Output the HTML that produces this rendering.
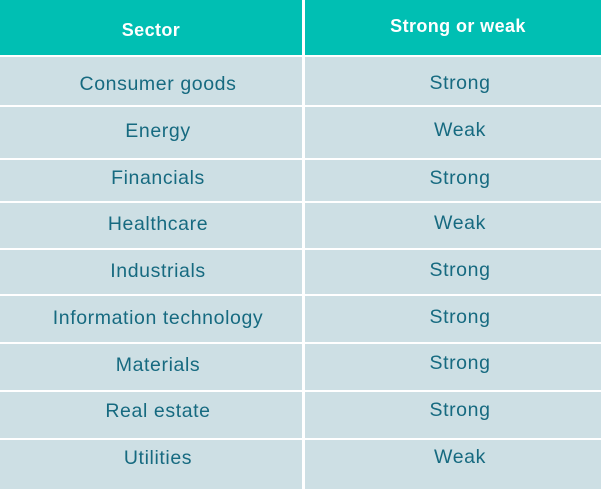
<!DOCTYPE html>
<html><head><style>
body{margin:0;width:601px;height:489px;background:#fff;position:relative;overflow:hidden;font-family:"Liberation Sans",sans-serif}
div.c{position:absolute;background:#cddfe4}
div.h{background:#00bfb3}
span{position:absolute;line-height:20px;height:20px;text-align:center;color:#166a80;font-size:19.5px;letter-spacing:0.6px;white-space:nowrap}
span.l{left:7px;width:302px}
span.r{left:309px;width:302px}
span.w{color:#fff;font-weight:bold;font-size:18px;letter-spacing:0.4px}
</style></head><body>
<div class="c h" style="left:0;top:0;width:302px;height:55px"></div>
<div class="c h" style="left:305px;top:0;width:296px;height:55px"></div>
<div class="c" style="left:0;top:57px;width:302px;height:48px"></div><div class="c" style="left:305px;top:57px;width:296px;height:48px"></div>
<div class="c" style="left:0;top:107px;width:302px;height:51px"></div><div class="c" style="left:305px;top:107px;width:296px;height:51px"></div>
<div class="c" style="left:0;top:160px;width:302px;height:41px"></div><div class="c" style="left:305px;top:160px;width:296px;height:41px"></div>
<div class="c" style="left:0;top:203px;width:302px;height:45px"></div><div class="c" style="left:305px;top:203px;width:296px;height:45px"></div>
<div class="c" style="left:0;top:250px;width:302px;height:44px"></div><div class="c" style="left:305px;top:250px;width:296px;height:44px"></div>
<div class="c" style="left:0;top:296px;width:302px;height:46px"></div><div class="c" style="left:305px;top:296px;width:296px;height:46px"></div>
<div class="c" style="left:0;top:344px;width:302px;height:46px"></div><div class="c" style="left:305px;top:344px;width:296px;height:46px"></div>
<div class="c" style="left:0;top:392px;width:302px;height:46px"></div><div class="c" style="left:305px;top:392px;width:296px;height:46px"></div>
<div class="c" style="left:0;top:440px;width:302px;height:49px"></div><div class="c" style="left:305px;top:440px;width:296px;height:49px"></div>

<span class="l w" style="top:20px;left:0">Sector</span>
<span class="r w" style="top:16px;left:307px">Strong or weak</span>

<span class="l" style="top:74px">Consumer goods</span><span class="r" style="top:73px">Strong</span>
<span class="l" style="top:121px">Energy</span><span class="r" style="top:120px">Weak</span>
<span class="l" style="top:168px">Financials</span><span class="r" style="top:168px">Strong</span>
<span class="l" style="top:214px">Healthcare</span><span class="r" style="top:213px">Weak</span>
<span class="l" style="top:261px">Industrials</span><span class="r" style="top:260px">Strong</span>
<span class="l" style="top:308px">Information technology</span><span class="r" style="top:307px">Strong</span>
<span class="l" style="top:355px">Materials</span><span class="r" style="top:353px">Strong</span>
<span class="l" style="top:401px">Real estate</span><span class="r" style="top:400px">Strong</span>
<span class="l" style="top:448px">Utilities</span><span class="r" style="top:447px">Weak</span>
</body></html>
